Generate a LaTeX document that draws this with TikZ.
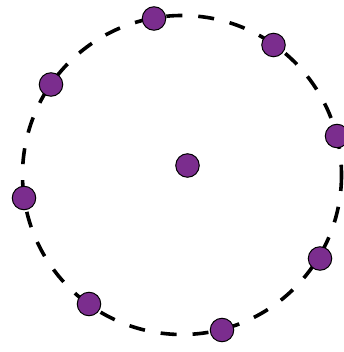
\documentclass[tikz,border=0pt]{standalone}
\definecolor{dotpurple}{RGB}{123,45,142}
\begin{document}
\begin{tikzpicture}[x=1pt,y=-1pt,
  dot/.style={circle,fill=dotpurple,draw=black,line width=1pt,minimum size=23.5pt,inner sep=0pt},
  ring/.style={line width=3.6pt,dash pattern=on 16pt off 16pt}]
\useasboundingbox (0,0) rectangle (344,352);
\coordinate (c) at (182,175);
\draw[ring] (c) circle[radius=159.5];
\node[dot] (center) at (187.5,165.5) {};
\node[dot] (d1) at (154,18.5) {};
\node[dot] (d2) at (273.5,45) {};
\node[dot] (d3) at (337,136) {};
\node[dot] (d4) at (320,258.5) {};
\node[dot] (d5) at (222,330) {};
\node[dot] (d6) at (89,304) {};
\node[dot] (d7) at (24,198) {};
\node[dot] (d8) at (51,84.5) {};
\end{tikzpicture}
\end{document}
